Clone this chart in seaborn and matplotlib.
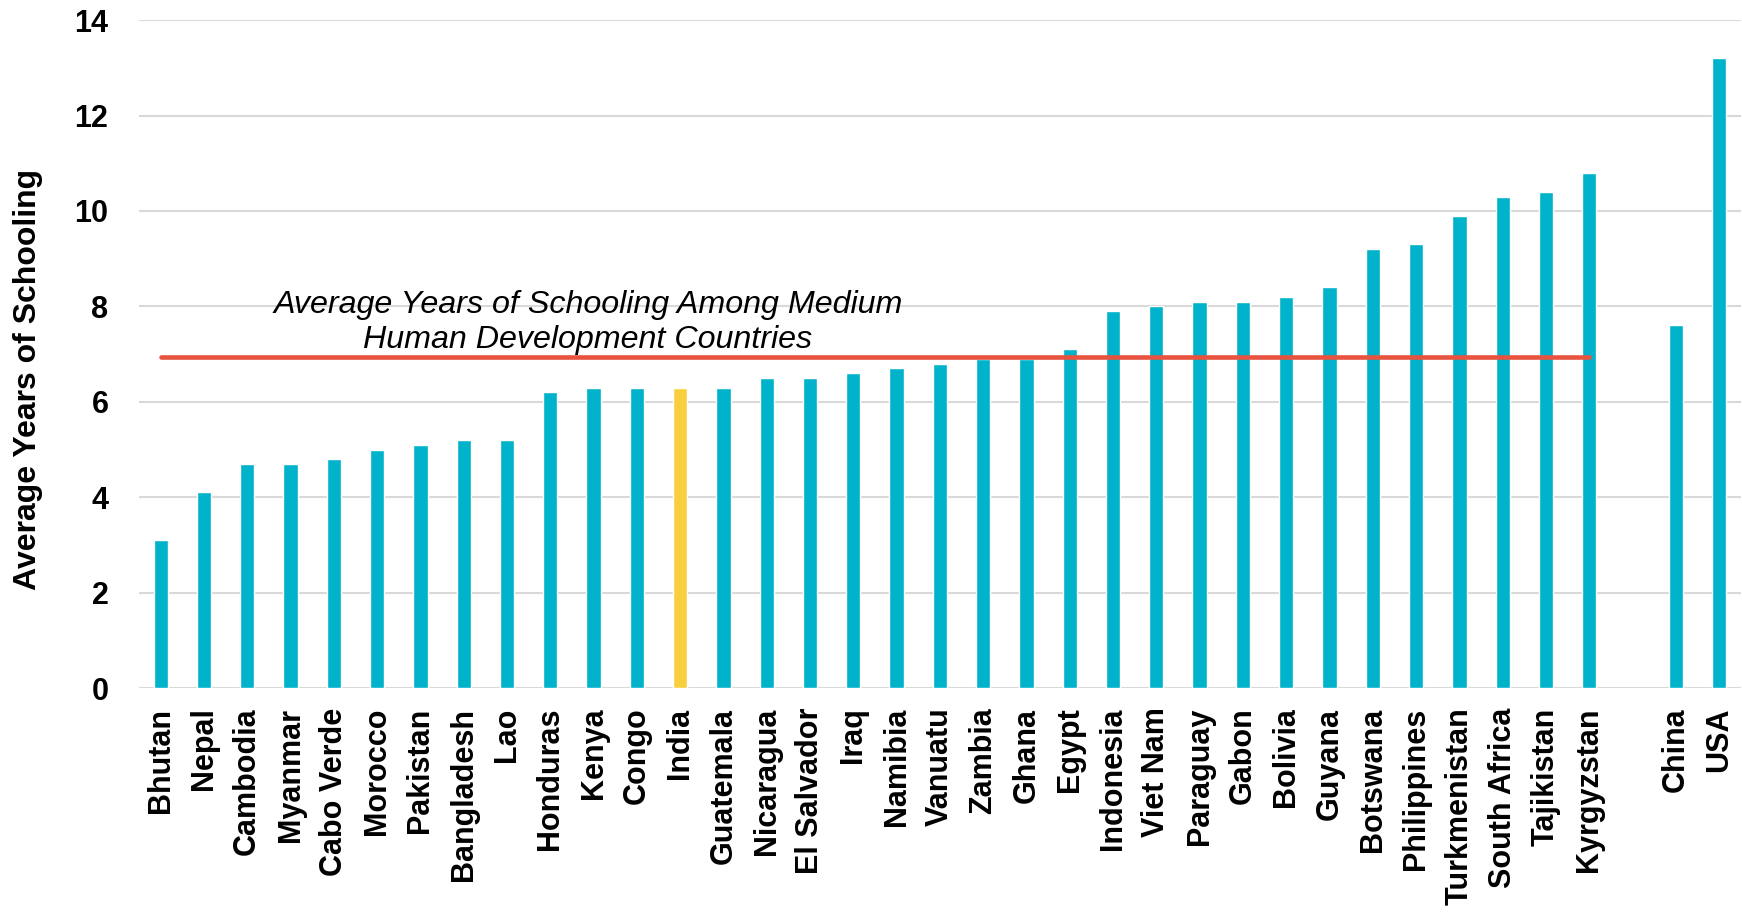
import pandas as pd
import seaborn as sns
import matplotlib.pyplot as plt

# medium human development countries, sorted by value
hmd_countries = ["Bhutan", "Nepal", "Cambodia", "Myanmar", "Cabo Verde", "Morocco",
                 "Pakistan", "Bangladesh", "Lao", "Honduras", "Kenya", "Congo", "India",
                 "Guatemala", "Nicaragua", "El Salvador", "Iraq", "Namibia", "Vanuatu",
                 "Zambia", "Ghana", "Egypt", "Indonesia", "Viet Nam", "Paraguay", "Gabon",
                 "Bolivia", "Guyana", "Botswana", "Philippines", "Turkmenistan",
                 "South Africa", "Tajikistan", "Kyrgyzstan"]
hmd_years = [3.1, 4.1, 4.7, 4.7, 4.8, 5.0, 5.1, 5.2, 5.2, 6.2, 6.3, 6.3, 6.3,
             6.3, 6.5, 6.5, 6.6, 6.7, 6.8, 6.9, 6.9, 7.1, 7.9, 8.0, 8.1, 8.1,
             8.2, 8.4, 9.2, 9.3, 9.9, 10.3, 10.4, 10.8]
ref_countries = ["China", "USA"]
ref_years = [7.6, 13.2]
group_avg = 6.94
highlight = "India"

TEAL = "#00B2CA"
YELLOW = "#F9CF3E"
RED = "#E8533F"

df = pd.DataFrame({"country": hmd_countries + ref_countries,
                   "years": hmd_years + ref_years})
order = hmd_countries + [" "] + ref_countries
palette = {c: (YELLOW if c == highlight else TEAL) for c in df["country"]}

sns.set_style("white")
plt.rcParams["font.family"] = ["Liberation Sans", "DejaVu Sans"]
plt.rcParams["text.color"] = "black"
plt.rcParams["axes.labelcolor"] = "black"
plt.rcParams["xtick.color"] = "black"
plt.rcParams["ytick.color"] = "black"

fig = plt.figure(figsize=(17.42, 9.15), dpi=100)
ax = fig.add_axes([0.0798, 0.248, 0.9195, 0.730])

sns.barplot(data=df, x="country", y="years", hue="country", palette=palette,
            order=order, width=0.33, legend=False, saturation=1, ax=ax)

# group average line across the medium HD countries
ax.plot([0, len(hmd_countries) - 1], [group_avg, group_avg], color=RED, lw=3.3,
        solid_capstyle="round", zorder=3)
ax.text(9.87, 7.66, "Average Years of Schooling Among Medium\nHuman Development Countries",
        ha="center", va="center", fontsize=23.2, style="italic", linespacing=1.22)

ax.set_xlim(-0.5, len(order) - 0.5)
ax.set_ylim(0, 14)
ax.set_yticks(range(0, 15, 2))
ax.grid(axis="y", color="#D9D9D9", lw=1.5)
ax.set_axisbelow(True)
for s in ax.spines.values():
    s.set_visible(False)

ax.set_xlabel("")
ax.set_ylabel("Average Years of Schooling", fontsize=23, fontweight="bold")
ax.yaxis.set_label_coords(-0.0602, 0.4626)
ax.tick_params(axis="x", length=0, pad=14, labelsize=22, rotation=90)
ax.tick_params(axis="y", length=0, pad=22, labelsize=22)
for lbl in ax.get_xticklabels() + ax.get_yticklabels():
    lbl.set_fontweight("bold")

plt.savefig("out.png", dpi=100)
plt.close()
